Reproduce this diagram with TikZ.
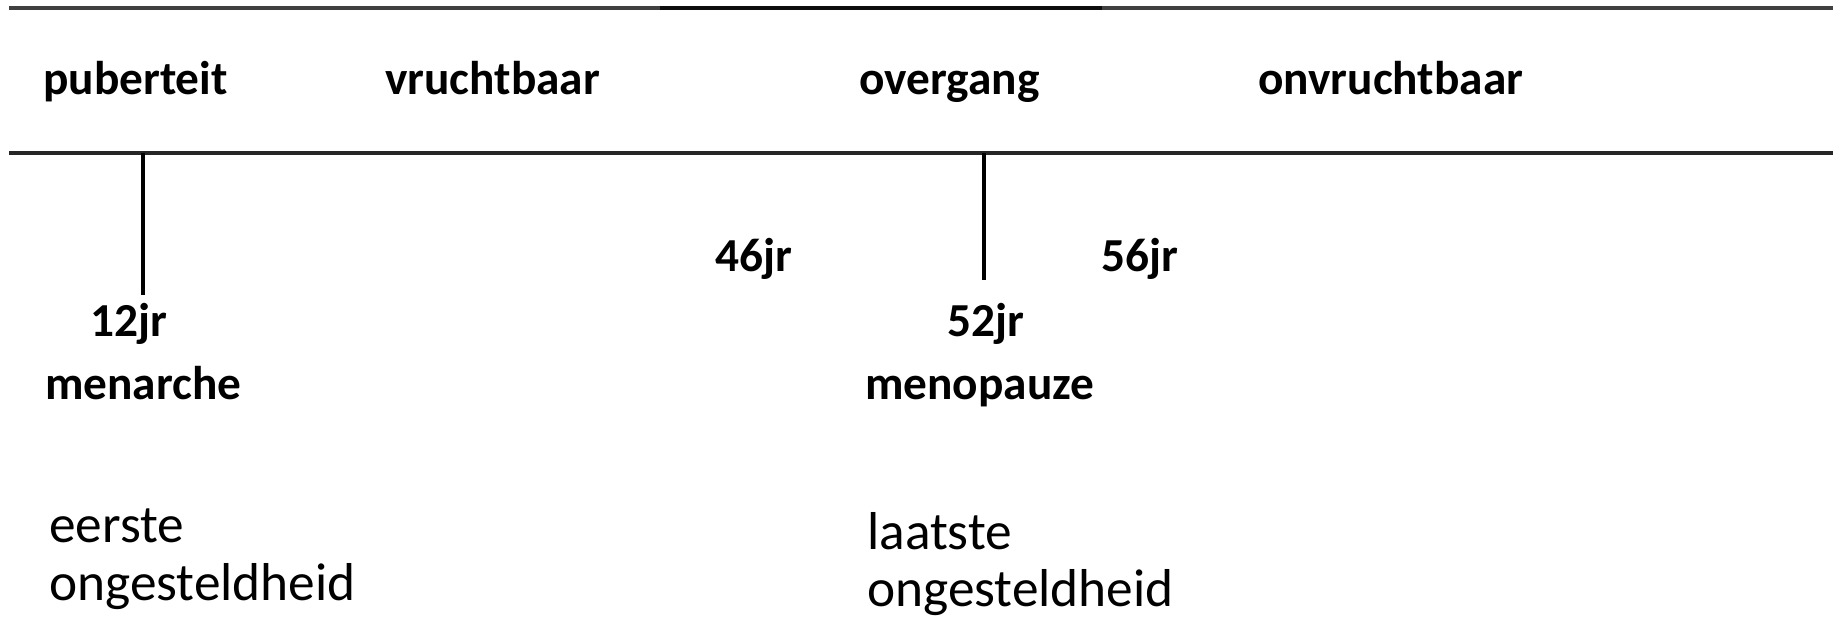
\documentclass[tikz,border=0pt]{standalone}
\usepackage{fontspec}
\setmainfont{Carlito}
\begin{document}
\begin{tikzpicture}[x=0.75pt,y=-0.75pt,
  hdr/.style={anchor=base west,inner sep=0pt,font=\fontsize{35.5}{42}\selectfont\bfseries},
  lbl/.style={anchor=base west,inner sep=0pt,font=\fontsize{35.5}{42}\selectfont\bfseries},
  desc/.style={anchor=base west,inner sep=0pt,font=\fontsize{40}{48}\selectfont},
  rule/.style={line width=2.3pt,black!85},
  tick/.style={line width=3.6pt,black}]
\useasboundingbox (0,0) rectangle (1833,620);
% horizontal rules
\coordinate (t1) at (9,8);
\coordinate (t2) at (1833,8);
\coordinate (t3) at (660,8);
\coordinate (t4) at (1102,8);
\draw[rule,black!75] (t1) -- (t2);
\draw[line width=2.8pt,black!95] (t3) -- (t4);
\coordinate (b1) at (9,153);
\coordinate (b2) at (1833,153);
\draw[rule] (b1) -- (b2);
% ticks
\coordinate (m1) at (143,153);
\coordinate (m2) at (143,295);
\coordinate (p1) at (984,153);
\coordinate (p2) at (984,280);
\draw[tick] (m1) -- (m2);
\draw[tick] (p1) -- (p2);
% header
\node[hdr] (pub) at (43,95) {puberteit};
\node[hdr] (vru) at (385,95) {vruchtbaar};
\node[hdr] (ove) at (859,95) {overgang};
\node[hdr] (onv) at (1258,95) {onvruchtbaar};
% ages
\node[lbl] (a12) at (90,336) {12jr};
\node[lbl] (a46) at (715,272) {46jr};
\node[lbl] (a56) at (1101,272) {56jr};
\node[lbl] (a52) at (947,336) {52jr};
\node[lbl] (men) at (45,399) {menarche};
\node[lbl] (meno) at (865,399) {menopauze};
% descriptions
\node[desc] (e1) at (49,542) {eerste};
\node[desc] (e2) at (49,600) {ongesteldheid};
\node[desc] (l1) at (867,549) {laatste};
\node[desc] (l2) at (867,606) {ongesteldheid};
\end{tikzpicture}
\end{document}
